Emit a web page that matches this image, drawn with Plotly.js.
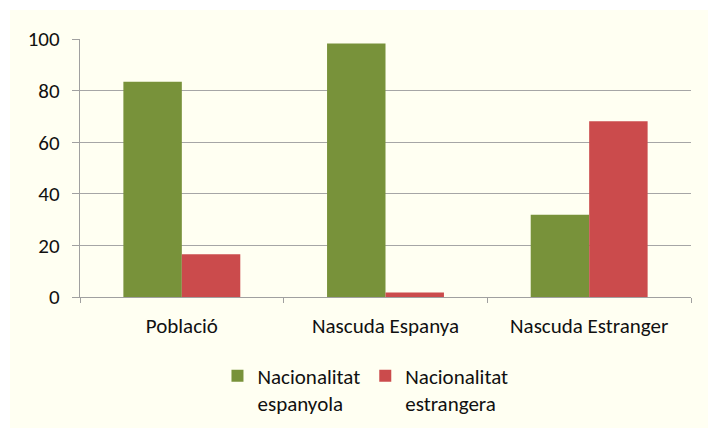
<!DOCTYPE html>
<html>
<head>
<meta charset="utf-8">
<script src="https://cdn.plot.ly/plotly-3.0.1.min.js"></script>
<style>
  html, body { margin: 0; padding: 0; background: #ffffff; }
  #chart { position: absolute; left: 10px; top: 10px; width: 698px; height: 418px; background: #fffff2; }
</style>
</head>
<body>
<div id="chart"></div>
<script>
const categories = ["Població", "Nascuda Espanya", "Nascuda Estranger"];
const espanyola = [83.4, 98.3, 31.9];
const estrangera = [16.6, 1.7, 68.1];
const seriesNames = ["Nacionalitat<br>espanyola", "Nacionalitat<br>estrangera"];

const font = "Carlito, Lato, 'Open Sans', sans-serif";

Plotly.newPlot("chart", [
  {
    type: "bar",
    name: seriesNames[0],
    x: categories,
    y: espanyola,
    marker: { color: "#78923a" }
  },
  {
    type: "bar",
    name: seriesNames[1],
    x: categories,
    y: estrangera,
    marker: { color: "#cb4b4c" }
  }
], {
  width: 698,
  height: 418,
  paper_bgcolor: "#fffff2",
  plot_bgcolor: "#fffff2",
  margin: { l: 70, r: 17, t: 29, b: 131 },
  bargap: 0.426,
  bargroupgap: 0,
  font: { family: font, size: 21, color: "#111111" },
  xaxis: {
    showline: true,
    linecolor: "#a0a0a0",
    linewidth: 1.3,
    ticks: "outside",
    tickson: "boundaries",
    ticklen: 5,
    tickcolor: "#a0a0a0",
    showgrid: false,
    automargin: false,
    ticklabelstandoff: 10,
    tickfont: { family: font, size: 21 }
  },
  yaxis: {
    range: [0, 100],
    dtick: 20,
    showline: true,
    linecolor: "#a0a0a0",
    linewidth: 1.3,
    ticks: "outside",
    ticklen: 7,
    tickcolor: "#a0a0a0",
    gridcolor: "#a6a6a6",
    gridwidth: 1.3,
    zeroline: false,
    automargin: false,
    ticklabelstandoff: 8,
    tickfont: { family: font, size: 21 }
  },
  showlegend: true,
  legend: {
    orientation: "h",
    x: 0.225,
    xanchor: "left",
    yref: "container",
    y: 0.173,
    yanchor: "top",
    valign: "top",
    bgcolor: "rgba(0,0,0,0)",
    font: { family: font, size: 21 },
    itemwidth: 30
  }
}, {
  displayModeBar: false
});
</script>
</body>
</html>
